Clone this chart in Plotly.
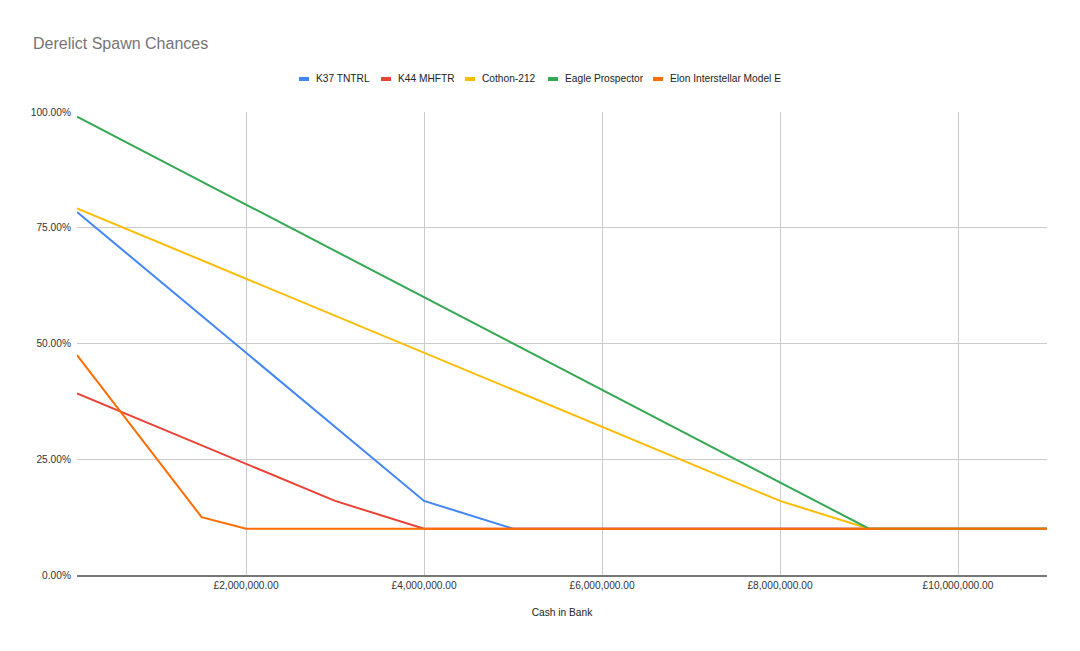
import plotly.graph_objects as go

# Cash in bank (x) sample points
cash = [100000, 500000, 1000000, 1500000, 2000000, 3000000, 4000000, 5000000,
        6000000, 7000000, 8000000, 9000000, 10000000, 11000000]

# Spawn chance values (fractions)
k37_tntrl = [0.784, 0.72, 0.64, 0.56, 0.48, 0.32, 0.16, 0.10, 0.10, 0.10, 0.10, 0.10, 0.10, 0.10]
k44_mhftr = [0.392, 0.36, 0.32, 0.28, 0.24, 0.16, 0.10, 0.10, 0.10, 0.10, 0.10, 0.10, 0.10, 0.10]
cothon_212 = [0.792, 0.76, 0.72, 0.68, 0.64, 0.56, 0.48, 0.40, 0.32, 0.24, 0.16, 0.10, 0.10, 0.10]
eagle_prospector = [0.99, 0.95, 0.90, 0.85, 0.80, 0.70, 0.60, 0.50, 0.40, 0.30, 0.20, 0.10, 0.10, 0.10]
elon_model_e = [0.475, 0.375, 0.25, 0.125, 0.10, 0.10, 0.10, 0.10, 0.10, 0.10, 0.10, 0.10, 0.10, 0.10]

series_names = ["K37 TNTRL", "K44 MHFTR", "Cothon-212", "Eagle Prospector", "Elon Interstellar Model E"]
series_values = [k37_tntrl, k44_mhftr, cothon_212, eagle_prospector, elon_model_e]
series_colors = ["#4285F4", "#EA4335", "#FBBC04", "#34A853", "#FF6D01"]

x_ticks = [2000000, 4000000, 6000000, 8000000, 10000000]
x_tick_labels = ["£" + f"{v:,.2f}" for v in x_ticks]
y_ticks = [0, 0.25, 0.5, 0.75, 1.0]

# layout geometry (pixels)
W, H = 1080, 651
ML, MR, MT, MB = 77, 33, 112, 76
PW, PH = W - ML - MR, H - MT - MB
legend_y_px = 79
legend_symbol_px = [299, 381, 465, 548, 653]  # left edge of each legend swatch
FS = 10.2

fig = go.Figure()
for name, vals, color in zip(series_names, series_values, series_colors):
    fig.add_trace(go.Scatter(x=cash, y=vals, name=name, mode="lines",
                             line=dict(color=color, width=2), showlegend=False))

def px_to_paper_x(px):
    return (px - ML) / PW

def px_to_paper_y(py):
    return (H - MB - py) / PH

ly = px_to_paper_y(legend_y_px)
for name, color, sx in zip(series_names, series_colors, legend_symbol_px):
    fig.add_shape(type="line", xref="paper", yref="paper",
                  x0=px_to_paper_x(sx), x1=px_to_paper_x(sx + 10), y0=ly, y1=ly,
                  line=dict(color=color, width=4))
    fig.add_annotation(xref="paper", yref="paper", x=px_to_paper_x(sx + 15), y=ly,
                       xanchor="left", yanchor="middle", showarrow=False, text=name,
                       font=dict(size=FS, color="#222"))

fig.update_layout(
    width=W, height=H,
    paper_bgcolor="white", plot_bgcolor="white",
    font=dict(family="Arial, Liberation Sans, sans-serif", size=FS, color="#222"),
    margin=dict(l=ML, r=MR, t=MT, b=MB),
    title=dict(text="Derelict Spawn Chances", x=33/W, xanchor="left", xref="container",
               y=1-43/H, yanchor="middle", yref="container",
               font=dict(size=16, color="#757575")),
    showlegend=False,
)
fig.update_xaxes(range=[100000, 11000000], tickvals=x_ticks, ticktext=x_tick_labels,
                 showgrid=True, gridcolor="#cccccc", gridwidth=1,
                 showline=True, linecolor="#777777", linewidth=1.5, zeroline=False,
                 ticks="", tickfont=dict(size=FS, color="#333"),
                 title=dict(text="Cash in Bank", font=dict(size=FS, color="#222"), standoff=19))
fig.update_yaxes(range=[0, 1.0], tickvals=y_ticks, tickformat=".2%",
                 showgrid=True, gridcolor="#cccccc", gridwidth=1, zeroline=False,
                 ticks="", ticklabelstandoff=5, tickfont=dict(size=FS, color="#333"))

fig.write_html("out.html")
